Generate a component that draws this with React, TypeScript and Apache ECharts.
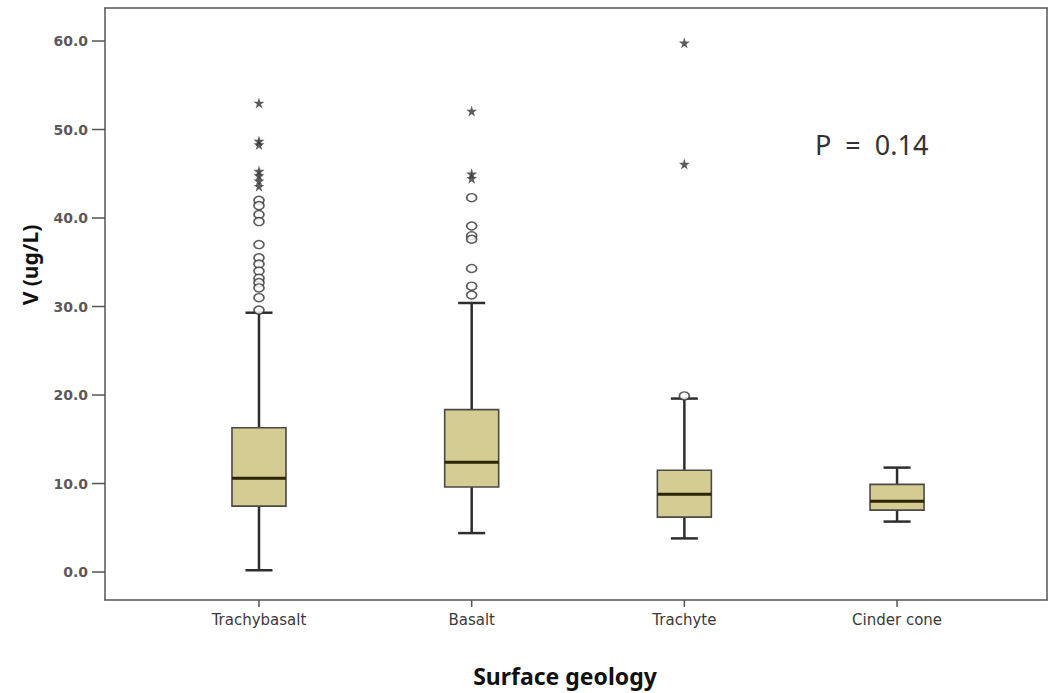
import React, { useEffect, useRef } from "react";
import * as echarts from "echarts";

const categories = ["Trachybasalt", "Basalt", "Trachyte", "Cinder cone"];
const whiskerLow = [0.2, 4.4, 3.8, 5.7];
const q1 = [7.45, 9.6, 6.2, 7.0];
const median = [10.6, 12.4, 8.8, 8.0];
const q3 = [16.3, 18.35, 11.5, 9.9];
const whiskerHigh = [29.3, 30.4, 19.6, 11.8];
const circleOutliers = [
  [42.0, 41.4, 40.4, 39.6, 37.0, 35.5, 34.8, 34.0, 33.2, 32.7, 32.1, 31.0, 29.6],
  [42.3, 39.1, 38.0, 37.6, 34.3, 32.3, 31.3],
  [19.9],
  [],
];
const starOutliers = [
  [53.0, 48.7, 48.3, 45.3, 44.8, 44.2, 43.6],
  [52.1, 45.0, 44.5],
  [59.8, 46.1],
  [],
];
const yTicks = [0, 10, 20, 30, 40, 50, 60];
const xTicks = [0, 1, 2, 3];
const pValueText = "P  =  0.14";

const STAR =
  "path://M50,0 L61,35 L98,35 L68,57 L79,91 L50,70 L21,91 L32,57 L2,35 L39,35 Z";

export default function App() {
  const ref = useRef<HTMLDivElement>(null);
  useEffect(() => {
    if (!ref.current) return;
    const chart = echarts.init(ref.current, undefined, { renderer: "svg" });
    const boxData = categories.map((_, i) => [
      i,
      whiskerLow[i],
      q1[i],
      median[i],
      q3[i],
      whiskerHigh[i],
    ]);
    const circles: number[][] = [];
    circleOutliers.forEach((arr, i) => arr.forEach((v) => circles.push([i, v])));
    const stars: number[][] = [];
    starOutliers.forEach((arr, i) => arr.forEach((v) => stars.push([i, v])));

    const axisLineStyle = { color: "#555555", width: 1.5 };
    const xMin = -0.724;
    const xMax = 3.705;
    const yMin = -3.16;
    const yMax = 63.73;

    const textGraphics: any[] = [
      {
        id: "ytitle",
        type: "text",
        x: 30,
        y: 265,
        rotation: Math.PI / 2,
        style: {
          text: "V (ug/L)",
          fontFamily: "Noto Sans",
          fontWeight: "bold",
          fontSize: 21,
          fill: "#111111",
          textAlign: "center",
          textVerticalAlign: "middle",
        },
      },
      {
        id: "xtitle",
        type: "text",
        x: 565,
        y: 676,
        style: {
          text: "Surface geology",
          fontFamily: "Noto Sans",
          fontWeight: "bold",
          fontSize: 23,
          fill: "#111111",
          textAlign: "center",
          textVerticalAlign: "middle",
        },
      },
      {
        id: "pvalue",
        type: "text",
        x: 815,
        y: 144,
        style: {
          text: pValueText,
          fontFamily: "Noto Sans",
          fontSize: 27,
          fill: "#333333",
          textAlign: "left",
          textVerticalAlign: "middle",
        },
      },
    ];

    const option: any = {
      animation: false,
      backgroundColor: "#ffffff",
      grid: {
        left: 105,
        right: 2,
        top: 8,
        bottom: 93,
      },
      xAxis: [
        {
          type: "value",
          position: "bottom",
          min: xMin,
          max: xMax,
          axisLine: { show: true, onZero: false, lineStyle: axisLineStyle },
          splitLine: { show: false },
          axisTick: { show: false },
          axisLabel: {
            show: true,
            customValues: xTicks,
            formatter: (v: number) => categories[Math.round(v)] ?? "",
            margin: 12,
            fontFamily: "DejaVu Sans",
            fontSize: 15,
            color: "#3a3a3a",
          },
        },
        {
          type: "value",
          position: "top",
          min: xMin,
          max: xMax,
          axisLine: { show: true, onZero: false, lineStyle: axisLineStyle },
          axisTick: { show: false },
          axisLabel: { show: false },
          splitLine: { show: false },
        },
      ],
      yAxis: [
        {
          type: "value",
          position: "left",
          min: yMin,
          max: yMax,
          axisLine: { show: true, onZero: false, lineStyle: axisLineStyle },
          splitLine: { show: false },
          axisTick: { show: false },
          axisLabel: {
            show: true,
            customValues: yTicks,
            formatter: (v: number) => v.toFixed(1),
            margin: 17,
            fontFamily: "DejaVu Sans",
            fontWeight: "bold",
            fontSize: 14,
            color: "#5a5a5a",
          },
        },
        {
          type: "value",
          position: "right",
          min: yMin,
          max: yMax,
          axisLine: { show: true, onZero: false, lineStyle: axisLineStyle },
          axisTick: { show: false },
          axisLabel: { show: false },
          splitLine: { show: false },
        },
      ],
      series: [
        {
          type: "custom",
          data: boxData,
          encode: { x: 0, y: [1, 2, 3, 4, 5] },
          renderItem: (params: any, api: any) => {
            const x = api.value(0);
            const pMin = api.coord([x, api.value(1)]);
            const pQ1 = api.coord([x, api.value(2)]);
            const pMed = api.coord([x, api.value(3)]);
            const pQ3 = api.coord([x, api.value(4)]);
            const pMax = api.coord([x, api.value(5)]);
            const cx = pMin[0];
            const hw = 27;
            const cw = 13.5;
            const ws = { stroke: "#2e2e2e", lineWidth: 2.5 };
            return {
              type: "group",
              children: [
                { type: "line", shape: { x1: cx, y1: pQ3[1], x2: cx, y2: pMax[1] }, style: ws },
                { type: "line", shape: { x1: cx, y1: pQ1[1], x2: cx, y2: pMin[1] }, style: ws },
                { type: "line", shape: { x1: cx - cw, y1: pMax[1], x2: cx + cw, y2: pMax[1] }, style: ws },
                { type: "line", shape: { x1: cx - cw, y1: pMin[1], x2: cx + cw, y2: pMin[1] }, style: ws },
                {
                  type: "rect",
                  shape: { x: cx - hw, y: pQ3[1], width: hw * 2, height: pQ1[1] - pQ3[1] },
                  style: { fill: "#d4cc92", stroke: "#4a4a44", lineWidth: 1.6 },
                },
                {
                  type: "line",
                  shape: { x1: cx - hw, y1: pMed[1], x2: cx + hw, y2: pMed[1] },
                  style: { stroke: "#2b2500", lineWidth: 3 },
                },
              ],
            };
          },
          z: 2,
        },
        {
          type: "scatter",
          data: circles,
          symbol: "circle",
          symbolSize: [10, 8],
          itemStyle: { color: "#ffffff", borderColor: "#333333", borderWidth: 1.6 },
          z: 3,
        },
        {
          type: "scatter",
          data: stars,
          symbol: STAR,
          symbolSize: 11,
          itemStyle: { color: "#333333" },
          z: 4,
        },
      ],
      graphic: textGraphics,
    };
    chart.setOption(option);

    // tick marks placed through the axes' own scales
    const tickEls: any[] = [];
    yTicks.forEach((v, i) => {
      const p = chart.convertToPixel({ xAxisIndex: 0, yAxisIndex: 0 }, [xMin, v]) as number[];
      tickEls.push({
        id: "yt" + i,
        type: "line",
        shape: { x1: p[0] - 13, y1: p[1], x2: p[0], y2: p[1] },
        style: { stroke: "#555555", lineWidth: 1.5 },
      });
    });
    xTicks.forEach((v, i) => {
      const p = chart.convertToPixel({ xAxisIndex: 0, yAxisIndex: 0 }, [v, yMin]) as number[];
      tickEls.push({
        id: "xt" + i,
        type: "line",
        shape: { x1: p[0], y1: p[1], x2: p[0], y2: p[1] + 7 },
        style: { stroke: "#555555", lineWidth: 1.5 },
      });
    });
    chart.setOption({ graphic: [...textGraphics, ...tickEls] });

    return () => chart.dispose();
  }, []);
  return (
    <div
      ref={ref}
      style={{ position: "absolute", left: 0, top: 0, width: 1049, height: 693 }}
    />
  );
}
